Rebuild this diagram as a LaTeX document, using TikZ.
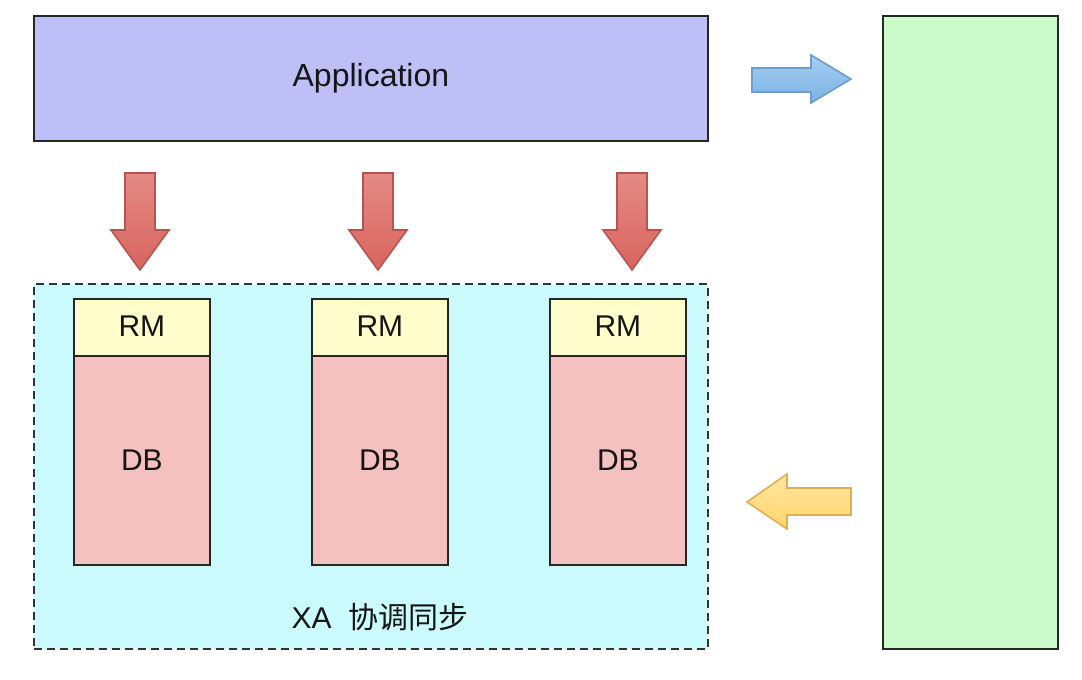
\documentclass[tikz,border=0pt]{standalone}
\usepackage{fontspec}
\setmainfont{Liberation Sans}
\newfontfamily\cjk{Noto Sans CJK SC}
\definecolor{appfill}{HTML}{BFBFF8}
\definecolor{greenfill}{HTML}{CCFCCC}
\definecolor{cyanfill}{HTML}{CAFAFC}
\definecolor{rmfill}{HTML}{FFFDCC}
\definecolor{dbfill}{HTML}{F4C0C0}
\definecolor{redtop}{HTML}{E48A85}
\definecolor{redbot}{HTML}{D9645F}
\definecolor{redline}{HTML}{B85450}
\definecolor{bluetop}{HTML}{A4CDF0}
\definecolor{bluebot}{HTML}{7DB2E4}
\definecolor{blueline}{HTML}{6C9EC9}
\definecolor{yeltop}{HTML}{FFE6A0}
\definecolor{yelbot}{HTML}{FFD56A}
\definecolor{yelline}{HTML}{E0B050}
\definecolor{txt}{HTML}{151515}
\begin{document}
\begin{tikzpicture}[x=1pt,y=-1pt,
  box/.style={draw=black!85,line width=1.8pt,anchor=north west,inner sep=0pt,text=txt,font=\fontsize{30}{33}\selectfont},
  redarrow/.style={draw=redline,line width=1.6pt,top color=redtop,bottom color=redbot,line join=miter},
]
\useasboundingbox (0,0) rectangle (1082,680);
% application
\node[box,fill=appfill,minimum width=674pt,minimum height=125pt,font=\fontsize{32}{35}\selectfont] (app) at (33,15) {\raisebox{1pt}{Application}};
% green box
\node[box,fill=greenfill,minimum width=175pt,minimum height=633pt] (green) at (882,15) {};
% container
\node[box,draw=black!80,dash pattern=on 8pt off 5pt,fill=cyanfill,minimum width=674pt,minimum height=365pt] (xa) at (33,283) {};
\node[text=txt,font=\fontsize{30}{33}\selectfont,anchor=center] (xalabel) at (380,617) {XA\ \ {\cjk 协调同步}};
% RM/DB stacks
\foreach \x/\n in {73/1,311/2,549/3}{
  \node[box,fill=rmfill,minimum width=136pt,minimum height=57pt] (rm\n) at (\x,298) {\raisebox{2pt}{RM}};
  \node[box,fill=dbfill,minimum width=136pt,minimum height=209pt] (db\n) at (\x,355) {DB};
}
% red down arrows
\foreach \c/\n in {140/1,378/2,632/3}{
  \path[redarrow] (\c-15,173) -- (\c+15,173) -- (\c+15,230) -- (\c+29,230) -- (\c,270) -- (\c-29,230) -- (\c-15,230) -- cycle;
}
% blue right arrow
\path[draw=blueline,line width=1.6pt,top color=bluetop,bottom color=bluebot] (752,68) -- (811,68) -- (811,55) -- (851,79) -- (811,103) -- (811,92) -- (752,92) -- cycle;
% yellow left arrow
\path[draw=yelline,line width=1.6pt,top color=yeltop,bottom color=yelbot] (851,488) -- (787,488) -- (787,474) -- (747,502) -- (787,529) -- (787,515) -- (851,515) -- cycle;
\end{tikzpicture}
\end{document}
